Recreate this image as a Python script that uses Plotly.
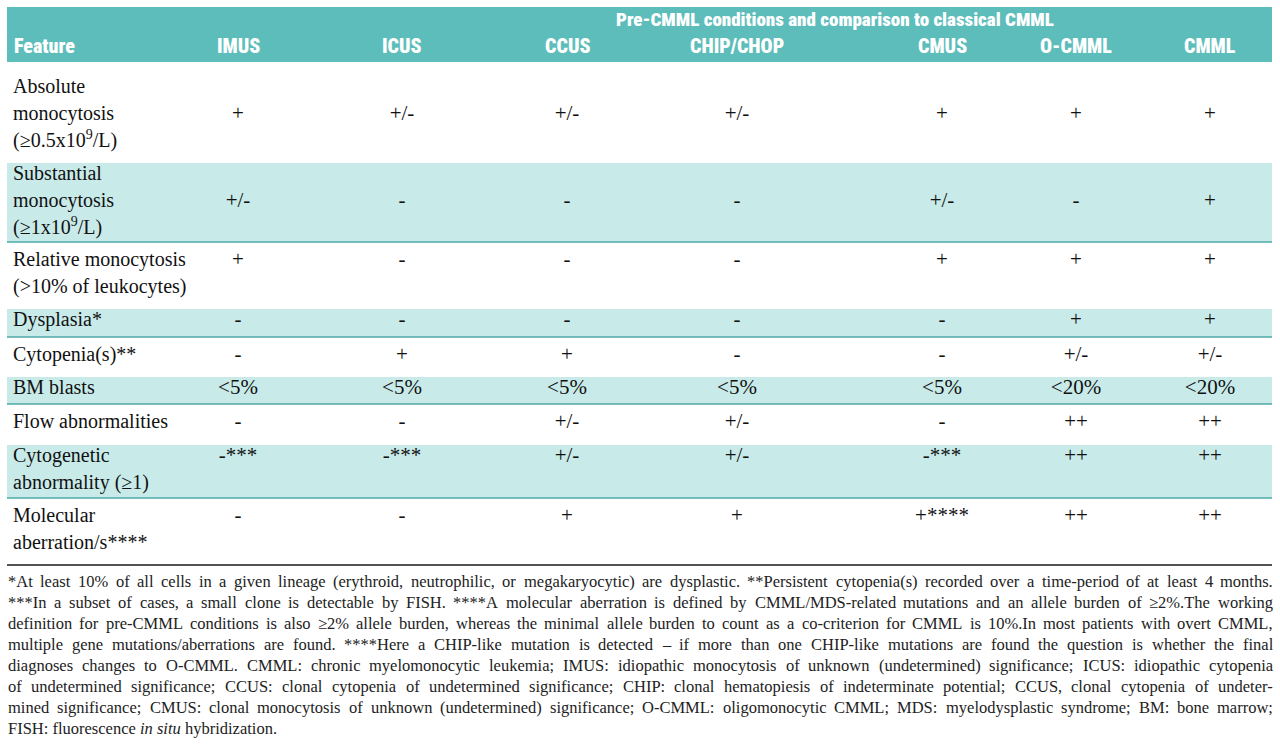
import plotly.graph_objects as go

# ---------------- data ----------------
columns = ["IMUS", "ICUS", "CCUS", "CHIP/CHOP", "CMUS", "O-CMML", "CMML"]
group_title = "Pre-CMML conditions and comparison to classical CMML"
feature_header = "Feature"

features = [
    "Absolute<br>monocytosis<br>(≥0.5x10<sup>9</sup>/L)",
    "Substantial<br>monocytosis<br>(≥1x10<sup>9</sup>/L)",
    "Relative monocytosis<br>(>10% of leukocytes)",
    "Dysplasia*",
    "Cytopenia(s)**",
    "BM blasts",
    "Flow abnormalities",
    "Cytogenetic<br>abnormality (≥1)",
    "Molecular<br>aberration/s****",
]

imus = ["+", "+/-", "+", "-", "-", "<5%", "-", "-***", "-"]
icus = ["+/-", "-", "-", "-", "+", "<5%", "-", "-***", "-"]
ccus = ["+/-", "-", "-", "-", "+", "<5%", "+/-", "+/-", "+"]
chip = ["+/-", "-", "-", "-", "-", "<5%", "+/-", "+/-", "+"]
cmus = ["+", "+/-", "+", "-", "-", "<5%", "-", "-***", "+****"]
ocmml = ["+", "-", "+", "+", "+/-", "<20%", "++", "++", "++"]
cmml = ["+", "+", "+", "+", "+/-", "<20%", "++", "++", "++"]
table_values = [imus, icus, ccus, chip, cmus, ocmml, cmml]

footnotes = [
    "*At least 10% of all cells in a given lineage (erythroid, neutrophilic, or megakaryocytic) are dysplastic. **Persistent cytopenia(s) recorded over a time-period of at least 4 months.",
    "***In a subset of cases, a small clone is detectable by FISH. ****A molecular aberration is defined by CMML/MDS-related mutations and an allele burden of ≥2%.The working",
    "definition for pre-CMML conditions is also ≥2% allele burden, whereas the minimal allele burden to count as a co-criterion for CMML is 10%.In most patients with overt CMML,",
    "multiple gene mutations/aberrations are found. ****Here a CHIP-like mutation is detected – if more than one CHIP-like mutations are found the question is whether the final",
    "diagnoses changes to O-CMML. CMML: chronic myelomonocytic leukemia; IMUS: idiopathic monocytosis of unknown (undetermined) significance; ICUS: idiopathic cytopenia",
    "of undetermined significance; CCUS: clonal cytopenia of undetermined significance; CHIP: clonal hematopiesis of indeterminate potential; CCUS, clonal cytopenia of undeter-",
    "mined significance; CMUS: clonal monocytosis of unknown (undetermined) significance; O-CMML: oligomonocytic CMML; MDS: myelodysplastic syndrome; BM: bone marrow;",
    "FISH: fluorescence <i>in situ</i> hybridization.",
]

# ---------------- layout constants ----------------
W, H = 1280, 744
LEFT, RIGHT = 7, 1272
HEAD_TOP, HEAD_BOT = 7, 62
row_edges = [62, 163, 242, 309, 337, 377, 404, 445, 498, 565]
shaded = [False, True, False, True, False, True, False, True, False]
col_x = [238, 402, 567, 737, 942, 1076, 1210]
label_x = 13
line_h = 27
value_line = [1, 1, 0, 0, 0, 0, 0, 0, 0]
FOOT_Y0, FOOT_DY, FOOT_SIZE = 581, 21, 16.5

HEAD_BG = "#5dbdbb"
ROW_BG = "#c8ebea"
SEP = "#4fa9a7"
HEAD_FONT = "Roboto Condensed, Open Sans Condensed, DejaVu Sans Condensed, sans-serif"
BODY_FONT = "Liberation Serif, Times New Roman, serif"

# Times / Liberation Serif advance widths (per 1000 em) for justification
_TW = {" ": 250, "!": 333, '"': 408, "#": 500, "$": 500, "%": 833, "&": 778, "'": 333, "(": 333, ")": 333,
       "*": 500, "+": 564, ",": 250, "-": 333, ".": 250, "/": 278, ":": 278, ";": 278, "<": 564, "=": 564,
       ">": 564, "?": 444, "@": 921, "–": 500, "≥": 549,
       "A": 722, "B": 667, "C": 667, "D": 722, "E": 611, "F": 556, "G": 722, "H": 722, "I": 333, "J": 389,
       "K": 722, "L": 611, "M": 889, "N": 722, "O": 722, "P": 556, "Q": 722, "R": 667, "S": 556, "T": 611,
       "U": 722, "V": 722, "W": 944, "X": 722, "Y": 722, "Z": 611,
       "a": 444, "b": 500, "c": 444, "d": 500, "e": 444, "f": 333, "g": 500, "h": 500, "i": 278, "j": 278,
       "k": 500, "l": 278, "m": 778, "n": 500, "o": 500, "p": 500, "q": 500, "r": 333, "s": 389, "t": 278,
       "u": 500, "v": 500, "w": 722, "x": 500, "y": 500, "z": 444}


def text_width(s, size):
    return sum(_TW.get(ch, 500) for ch in s) * size / 1000.0


fig = go.Figure()
shapes = [dict(type="rect", xref="x", yref="y", x0=LEFT, x1=RIGHT, y0=HEAD_TOP, y1=HEAD_BOT,
               fillcolor=HEAD_BG, line=dict(width=0), layer="below")]
for i, sh in enumerate(shaded):
    top, bot = row_edges[i], row_edges[i + 1]
    if sh:
        shapes.append(dict(type="rect", xref="x", yref="y", x0=LEFT, x1=RIGHT, y0=top, y1=bot,
                           fillcolor=ROW_BG, line=dict(width=0), layer="below"))
        shapes.append(dict(type="line", xref="x", yref="y", x0=LEFT, x1=RIGHT, y0=bot, y1=bot,
                           line=dict(color=SEP, width=1.5)))
shapes.append(dict(type="line", xref="x", yref="y", x0=LEFT, x1=RIGHT, y0=row_edges[-1], y1=row_edges[-1],
                   line=dict(color="#1a1a1a", width=1.5)))

# row label lines and cell values
lab_x, lab_y, lab_t = [], [], []
val_x, val_y, val_t = [], [], []
for i, feat in enumerate(features):
    top = row_edges[i]
    pad = 26 if i == 0 else (12 if shaded[i] else 19)
    first = top + pad
    for k, part in enumerate(feat.split("<br>")):
        lab_x.append(label_x)
        lab_y.append(first + k * line_h)
        lab_t.append(part)
    vy = first + value_line[i] * line_h
    for c, colvals in enumerate(table_values):
        val_x.append(col_x[c])
        val_y.append(vy)
        val_t.append(colvals[i])

fig.add_trace(go.Scatter(x=lab_x, y=lab_y, text=lab_t, mode="text", textposition="middle right",
                         textfont=dict(family=BODY_FONT, size=20, color="#111"), hoverinfo="skip",
                         showlegend=False))
fig.add_trace(go.Scatter(x=val_x, y=val_y, text=val_t, mode="text", textposition="middle center",
                         textfont=dict(family=BODY_FONT, size=21, color="#111"), hoverinfo="skip",
                         showlegend=False))

annotations = []
hfont = dict(family=HEAD_FONT, size=20, color="white", weight=900)
annotations.append(dict(x=835, y=19, xref="x", yref="y", text=group_title, showarrow=False,
                        xanchor="center", yanchor="middle", font=dict(hfont, size=19)))
annotations.append(dict(x=label_x - 1, y=46, xref="x", yref="y", text=feature_header, showarrow=False,
                        xanchor="left", yanchor="middle", font=hfont))
for c, name in enumerate(columns):
    annotations.append(dict(x=col_x[c], y=46, xref="x", yref="y", text=name, showarrow=False,
                            xanchor="center", yanchor="middle", font=hfont))

# footnotes: justified lines (last line left-aligned)
ffont = dict(family=BODY_FONT, size=FOOT_SIZE, color="#222")
for k, line in enumerate(footnotes):
    y = FOOT_Y0 + k * FOOT_DY
    if k == len(footnotes) - 1:
        annotations.append(dict(x=LEFT - 1, y=y, xref="x", yref="y", text=line, showarrow=False,
                                xanchor="left", yanchor="middle", font=ffont))
        continue
    words = line.split(" ")
    widths = [text_width(w, FOOT_SIZE) for w in words]
    gap = (RIGHT - LEFT - sum(widths)) / (len(words) - 1)
    x = LEFT
    for w, wd in zip(words, widths):
        annotations.append(dict(x=x - 1, y=y, xref="x", yref="y", text=w, showarrow=False,
                                xanchor="left", yanchor="middle", font=ffont))
        x += wd + gap

fig.update_layout(
    width=W, height=H,
    margin=dict(l=0, r=0, t=0, b=0),
    paper_bgcolor="white", plot_bgcolor="white",
    xaxis=dict(range=[0, W], visible=False, fixedrange=True),
    yaxis=dict(range=[H, 0], visible=False, fixedrange=True),
    shapes=shapes, annotations=annotations,
)
fig.write_html("out.html", config={"displayModeBar": False},
               post_script="document.body.style.margin='0px';document.body.style.overflow='hidden';")
